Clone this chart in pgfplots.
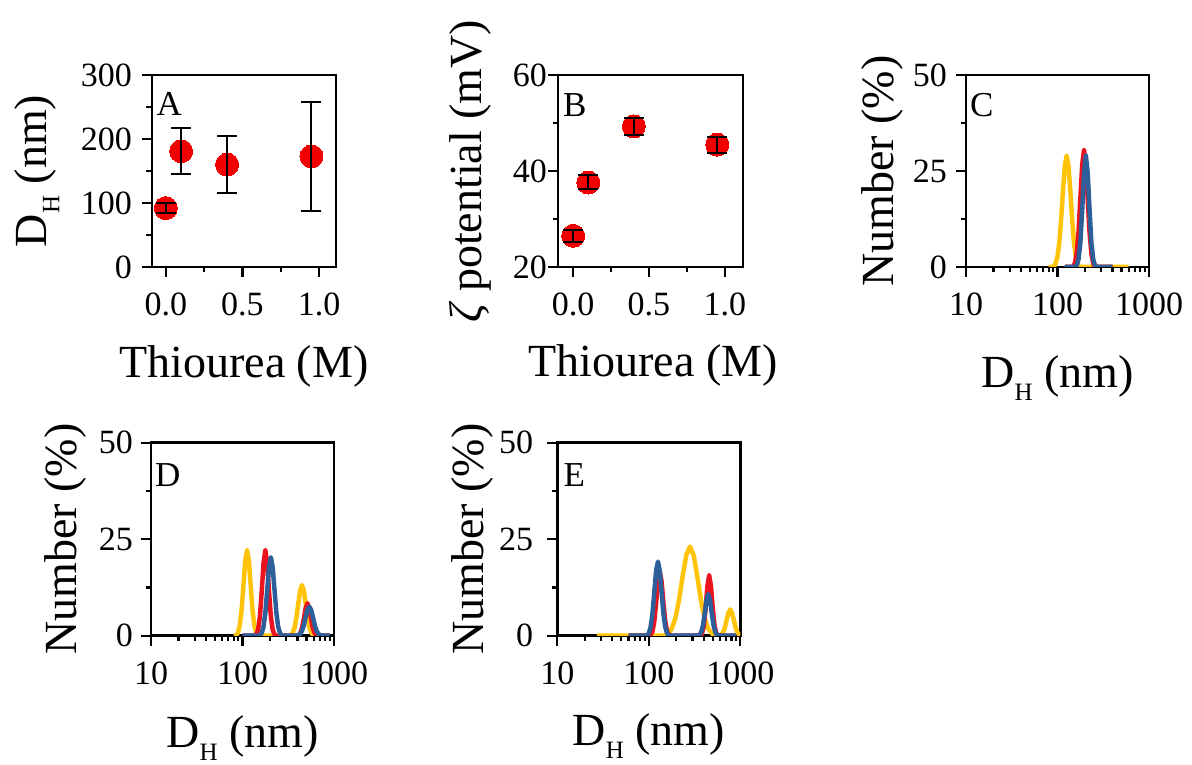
\documentclass[border=0pt]{standalone}
\usepackage{fontspec}
\setmainfont{Liberation Serif}
\usepackage{pgfplots}
\pgfplotsset{compat=1.18}
\definecolor{cred}{RGB}{235,20,30}
\definecolor{cblue}{RGB}{45,95,155}
\definecolor{cyel}{RGB}{255,195,10}
\definecolor{mred}{RGB}{240,0,0}
\newcommand{\tickfont}{\fontsize{34}{38}\selectfont}
\newcommand{\labfont}{\fontsize{46}{50}\selectfont}
\newcommand{\letfont}{\fontsize{35}{38}\selectfont}
\newcommand{\DHsub}{D\raisebox{-13pt}{\fontsize{25}{25}\selectfont H}}
\pgfplotsset{
  panel/.style={
    scale only axis, anchor=south west, clip marker paths=true,
    axis line style={line width=2.8pt},
    tick style={line width=2.2pt, black},
    major tick length=10pt, minor tick length=5.5pt,
    tick align=outside, tick pos=left,
    tick label style={font=\tickfont, inner sep=0pt},
    /pgf/number format/assume math mode=true,
    label style={font=\labfont},
    yticklabel style={anchor=east},
    xticklabel style={anchor=north, yshift=-16pt},
  },
  dls/.style={panel, xmin=10, xmax=1000, ymin=0, ymax=50,
    xtick={10,100,1000}, xticklabels={10,100,1000},
    minor xtick={20,30,40,50,60,70,80,90,200,300,400,500,600,700,800,900},
    ytick={0,25,50}, minor ytick={12.5,37.5},
    xlabel={\DHsub{} (nm)}, ylabel={Number (\%)}},
  curve/.style={line width=4.5pt, line join=round, no markers},
  pts/.style={only marks, mark=*, mark size=11.5pt, mark options={draw=mred, fill=mred, line width=0pt}},
  errs/.style={draw=none, mark=none, error bars/.cd, y dir=both, y explicit,
    error bar style={draw=black, line width=2pt},
    error mark options={draw=black, rotate=90, line width=2pt, mark size=10pt}},
}
\begin{document}
\begin{tikzpicture}
\useasboundingbox (0,0) rectangle (1192pt,765pt);
% ---------- A ----------
\begin{axis}[panel, at={(152pt,498pt)}, width=184pt, height=192pt,
  xmin=-0.09, xmax=1.11, ymin=0, ymax=300,
  xtick={0,0.5,1}, xticklabels={0.0,0.5,1.0}, minor xtick={0.25,0.75},
  ytick={0,100,200,300}, minor ytick={50,150,250},
  xlabel={Thiourea (M)}, ylabel={\DHsub{} (nm)},
  xlabel style={at={(axis description cs:0.5,-0.573)}, anchor=base},
  ylabel style={at={(axis description cs:-0.625,0.5)}, anchor=center},
  yticklabel style={xshift=-10pt}]
\addplot[pts] coordinates {(0,92) (0.1,181) (0.4,160) (0.95,173)};
\addplot[errs] coordinates {(0,92) +- (0,8) (0.1,181) +- (0,36) (0.4,160) +- (0,44.5) (0.95,172.5) +- (0,85.5)};
\node[anchor=north west, inner sep=0pt, font=\letfont, xshift=4.5pt, yshift=-17pt] at (rel axis cs:0,1) {A};
\end{axis}
% ---------- B ----------
\begin{axis}[panel, at={(558pt,498pt)}, width=185pt, height=192pt,
  xmin=-0.1, xmax=1.12, ymin=20, ymax=60,
  xtick={0,0.5,1}, xticklabels={0.0,0.5,1.0}, minor xtick={0.25,0.75},
  ytick={20,40,60}, minor ytick={30,50},
  xlabel={Thiourea (M)}, ylabel={{\itshape ζ} potential (mV)},
  xlabel style={at={(axis description cs:0.514,-0.571)}, anchor=base},
  ylabel style={at={(axis description cs:-0.476,0.5)}, anchor=center},
  yticklabel style={xshift=-1pt}]
\addplot[pts] coordinates {(0,26.5) (0.1,37.6) (0.4,49.3) (0.95,45.5)};
\addplot[errs] coordinates {(0,26.5) +- (0,1.3) (0.1,37.7) +- (0,1.45) (0.4,49.2) +- (0,1.8) (0.95,45.4) +- (0,1.6)};
\node[anchor=north west, inner sep=0pt, font=\letfont, xshift=5pt, yshift=-18pt] at (rel axis cs:0,1) {B};
\end{axis}
% ---------- C ----------
\begin{axis}[xmode=log, dls, at={(966pt,498pt)}, width=183pt, height=192pt,
  xlabel style={at={(axis description cs:0.5,-0.630)}, anchor=base},
  ylabel style={at={(axis description cs:-0.459,0.5)}, anchor=center},
  yticklabel style={xshift=-9pt}]
\addplot[curve, cyel] coordinates {(80,0)(91.2,0)(95.5,1.0)(100,2.7)(104.7,6.4)(109.6,12.4)(114.8,19.9)(120.2,26.4)(125.9,29)(131.8,26.4)(138.0,19.9)(144.5,12.4)(151.4,6.4)(158.5,2.7)(166.0,1.0)(173.8,0)(600,0)};
\addplot[curve, cred] coordinates {(120,0)(147.9,0)(154.9,1.0)(162.2,3.5)(169.8,9.1)(177.8,17.8)(186.2,26.6)(195.0,30.5)(204.2,26.6)(213.8,17.8)(223.9,9.1)(234.4,3.5)(245.5,1.0)(257.0,0)(400,0)};
\addplot[curve, cblue] coordinates {(120,0)(154.9,0)(162.2,0.4)(169.8,2.0)(177.8,6.4)(186.2,14.9)(195.0,24.5)(204.2,29)(213.8,24.5)(223.9,14.9)(234.4,6.4)(245.5,2.0)(257.0,0.4)(269.2,0)(400,0)};
\node[anchor=north west, inner sep=0pt, font=\letfont, xshift=4pt, yshift=-18pt] at (rel axis cs:0,1) {C};
\end{axis}
% ---------- D ----------
\begin{axis}[xmode=log, dls, at={(151pt,129.3pt)}, width=183pt, height=193pt,
  xlabel style={at={(axis description cs:0.5,-0.578)}, anchor=base},
  ylabel style={at={(axis description cs:-0.47,0.5)}, anchor=center},
  yticklabel style={xshift=-8pt}]
\addplot[curve, cyel] coordinates {(80,0)(85.1,0)(89.1,0.75)(93.3,2.6)(97.7,6.6)(102.3,12.9)(107.2,19.4)(112.2,22.2)(117.5,19.4)(123.0,12.9)(128.8,6.6)(134.9,2.6)(141.3,0.75)(147.9,0)(323.6,0)(338.8,0.2)(354.8,0.8)(371.5,2.2)(389.0,4.8)(407.4,8.4)(426.6,11.7)(446.7,13.1)(467.7,11.7)(489.8,8.4)(512.9,4.8)(537.0,2.2)(562.3,0.8)(588.8,0.2)(616.6,0)(900,0)};
\addplot[curve, cred] coordinates {(100,0)(134.9,0)(141.3,0.3)(147.9,1.5)(154.9,4.9)(162.2,11.4)(169.8,18.8)(177.8,22.2)(186.2,18.8)(195.0,11.4)(204.2,4.9)(213.8,1.5)(223.9,0.3)(234.4,0)(389.0,0)(407.4,0.1)(426.6,0.6)(446.7,1.9)(467.7,4.3)(489.8,7.1)(512.9,8.4)(537.0,7.1)(562.3,4.3)(588.8,1.9)(616.6,0.6)(645.7,0.1)(676.1,0)(900,0)};
\addplot[curve, cblue] coordinates {(100,0)(154.9,0)(162.2,0.7)(169.8,2.3)(177.8,6.0)(186.2,11.8)(195.0,17.7)(204.2,20.3)(213.8,17.7)(223.9,11.8)(234.4,6.0)(245.5,2.3)(257.0,0.7)(269.2,0)(389.0,0)(407.4,0.14)(426.6,0.46)(446.7,1.25)(467.7,2.7)(489.8,4.8)(512.9,6.7)(537.0,7.5)(562.3,6.7)(588.8,4.8)(616.6,2.7)(645.7,1.25)(676.1,0.46)(707.9,0.14)(741.3,0)(900,0)};
\node[anchor=north west, inner sep=0pt, font=\letfont, xshift=4pt, yshift=-20.5pt] at (rel axis cs:0,1) {D};
\end{axis}
% ---------- E ----------
\begin{axis}[xmode=log, dls, at={(557.3pt,129.3pt)}, width=183pt, height=193pt,
  xlabel style={at={(axis description cs:0.5,-0.570)}, anchor=base},
  ylabel style={at={(axis description cs:-0.463,0.5)}, anchor=center},
  yticklabel style={xshift=-14pt}]
\addplot[curve, cyel] coordinates {(27,0)(147.9,0)(162.2,0.6)(177.8,1.8)(195.0,4.5)(213.8,9.2)(234.4,15.4)(257.0,20.9)(281.8,23.1)(309.0,20.9)(338.8,15.4)(371.5,9.2)(407.4,4.5)(446.7,1.8)(489.8,0.6)(537.0,0)(588.8,0)(616.6,0.23)(645.7,0.8)(676.1,2.0)(707.9,4.0)(741.3,5.9)(776.2,6.8)(812.8,5.9)(851.1,4.0)(891.3,2.0)(933.3,0.8)(977.2,0.23)(1000,0.05)};
\addplot[curve, cred] coordinates {(60,0)(100,0)(104.7,0.25)(109.6,1.1)(114.8,3.7)(120.2,8.5)(125.9,14.0)(131.8,16.5)(138.0,14.0)(144.5,8.5)(151.4,3.7)(158.5,1.1)(166.0,0.25)(173.8,0)(363.1,0)(380.2,0.5)(398.1,2.3)(416.9,6.75)(436.5,12.7)(457.1,15.7)(478.6,12.7)(501.2,6.75)(524.8,2.3)(549.5,0.5)(575.4,0)(900,0)};
\addplot[curve, cblue] coordinates {(60,0)(95.5,0)(100,0.65)(104.7,2.2)(109.6,5.7)(114.8,11.2)(120.2,16.8)(125.9,19.2)(131.8,16.8)(138.0,11.2)(144.5,5.7)(151.4,2.2)(158.5,0.65)(166.0,0)(338.8,0)(354.8,0.16)(371.5,0.75)(389.0,2.4)(407.4,5.5)(426.6,9.1)(446.7,10.8)(467.7,9.1)(489.8,5.5)(512.9,2.4)(537.0,0.75)(562.3,0.16)(588.8,0)(900,0)};
\node[anchor=north west, inner sep=0pt, font=\letfont, xshift=6pt, yshift=-20.5pt] at (rel axis cs:0,1) {E};
\end{axis}
\end{tikzpicture}
\end{document}
